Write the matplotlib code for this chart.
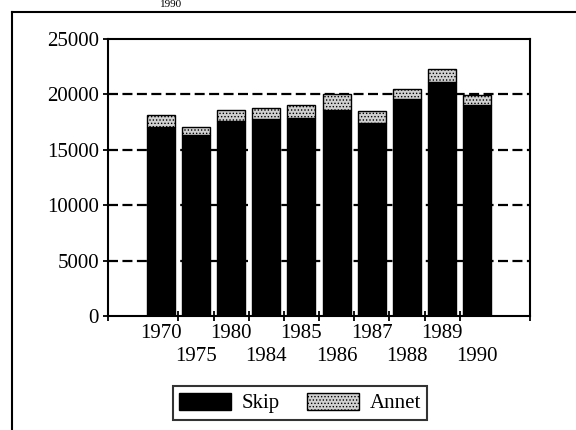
import matplotlib
matplotlib.use("Agg")
import matplotlib.pyplot as plt
from matplotlib.lines import Line2D
import numpy as np

years = ["1970", "1975", "1980", "1984", "1985", "1986", "1987", "1988", "1989", "1990"]
skip = [17100, 16300, 17600, 17800, 17900, 18600, 17400, 19600, 21100, 19000]
annet = [1000, 800, 1000, 1000, 1100, 1400, 1100, 900, 1200, 950]
yticks = [0, 5000, 10000, 15000, 20000, 25000]

plt.rcParams['font.family'] = ['Liberation Serif', 'DejaVu Serif']
plt.rcParams['hatch.linewidth'] = 0.6
fs = 15

fig = plt.figure(figsize=(5.76, 4.30), dpi=100)
ax = fig.add_axes([108/576, 1-316/430, (530-108)/576, (316-39)/430])

x = np.arange(len(years))
ax.set_axisbelow(True)
for yv in yticks[1:-1]:
    ax.axhline(yv, color='black', lw=1.6, ls=(0, (4.5, 2)), zorder=0)

ax.bar(x, skip, width=0.8, color='black', edgecolor='black', lw=1, label='Skip', zorder=2)
ax.bar(x, annet, bottom=skip, width=0.8, color='#d0d0d0', edgecolor='black',
       lw=1, hatch='.....', label='Annet', zorder=2)

ax.set_xlim(-1.5, 10.5)
ax.set_ylim(0, 25000)
ax.set_yticks(yticks)
ax.set_yticklabels([str(v) for v in yticks], fontsize=fs)

ax.set_xticks(list(np.arange(len(years) - 1) + 0.5) + [-1.5, 10.5])
ax.set_xticklabels([])
for i, yl in enumerate(years):
    off = -12.5 if i % 2 == 0 else -29
    ax.annotate(yl, xy=(x[i], 0), xycoords=('data', 'axes fraction'),
                xytext=(0, off), textcoords='offset points',
                ha='center', va='center', fontsize=fs)
ax.tick_params(axis='both', which='major', direction='inout', length=7, width=1.3)
ax.tick_params(axis='y', pad=3)
for s in ax.spines.values():
    s.set_linewidth(1.5)

leg = fig.legend(loc='center', bbox_to_anchor=(300/576, 1-403/430), ncol=2,
                 fontsize=fs, frameon=True, fancybox=False, handlelength=2.5,
                 handleheight=0.9, handletextpad=0.5, columnspacing=1.3,
                 borderpad=0.32, borderaxespad=0)
leg.get_frame().set_edgecolor('black')
leg.get_frame().set_linewidth(1.5)

fig.add_artist(Line2D([12/576, 12/576], [0, 1-12/430], color='black', lw=1.5,
                      transform=fig.transFigure))
fig.add_artist(Line2D([12/576, 1], [1-12/430, 1-12/430], color='black', lw=1.5,
                      transform=fig.transFigure))
fig.text(160/576, 1.0, "1990", fontsize=8, va='top', ha='left')

fig.savefig("out.png", dpi=100)
